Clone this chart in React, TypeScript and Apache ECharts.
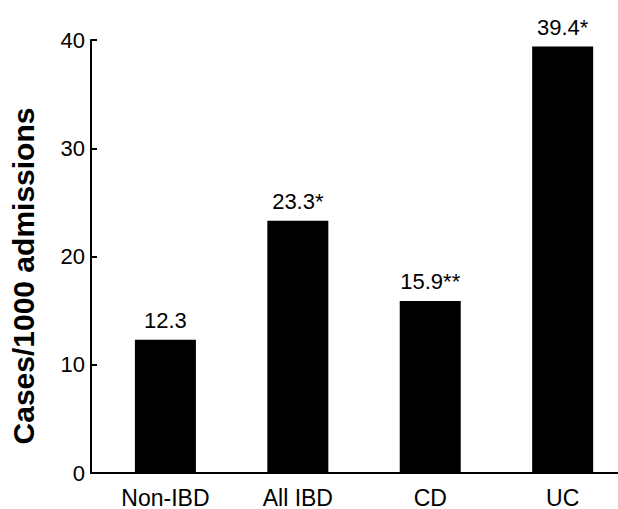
import React, { useEffect, useRef } from "react";
import * as echarts from "echarts";

const categories = ["Non-IBD", "All IBD", "CD", "UC"];
const values = [12.3, 23.3, 15.9, 39.4];
const valueLabels = ["12.3", "23.3*", "15.9**", "39.4*"];
const yTicks = [0, 10, 20, 30, 40];
const yTitle = "Cases/1000 admissions";

const FONT = "Liberation Sans, Arial, Helvetica, sans-serif";

export default function App() {
  const ref = useRef<HTMLDivElement>(null);
  useEffect(() => {
    if (!ref.current) return;
    const chart = echarts.init(ref.current, null, { renderer: "svg" });
    chart.setOption({
      animation: false,
      backgroundColor: "#ffffff",
      grid: { left: 91, right: 0, top: 40, bottom: 35, containLabel: false },
      xAxis: {
        type: "value",
        min: -0.562,
        max: 3.418,
        splitLine: { show: false },
        axisTick: { show: false },
        axisLine: { show: true, onZero: false, lineStyle: { color: "#000", width: 2 } },
        axisLabel: {
          customValues: categories.map((_, i) => i),
          formatter: (v: number) => categories[Math.round(v)] ?? "",
          color: "#000",
          fontFamily: FONT,
          fontSize: 23,
          margin: 13,
        },
      },
      yAxis: {
        type: "value",
        min: yTicks[0],
        max: yTicks[yTicks.length - 1],
        interval: 10,
        splitLine: { show: false },
        axisLine: { show: true, onZero: false, lineStyle: { color: "#000", width: 2 } },
        axisTick: { show: true, inside: true, length: 6, lineStyle: { color: "#000", width: 2 } },
        axisLabel: { color: "#000", fontFamily: FONT, fontSize: 22, margin: 6 },
      },
      graphic: [
        {
          type: "text",
          x: 23,
          y: 276,
          rotation: Math.PI / 2,
          style: {
            text: yTitle,
            fill: "#000",
            font: `bold 30px ${FONT}`,
            align: "center",
            verticalAlign: "middle",
          },
        },
      ],
      series: [
        {
          type: "bar",
          barWidth: 61,
          data: values.map((v, i) => [i, v]),
          itemStyle: { color: "#000" },
          label: {
            show: true,
            position: "top",
            distance: 8,
            color: "#000",
            fontFamily: FONT,
            fontSize: 22,
            formatter: (p: any) => valueLabels[p.dataIndex],
          },
        },
      ],
    });
    return () => chart.dispose();
  }, []);
  return (
    <div
      ref={ref}
      style={{ position: "fixed", left: 0, top: 0, width: 618, height: 509 }}
    />
  );
}
